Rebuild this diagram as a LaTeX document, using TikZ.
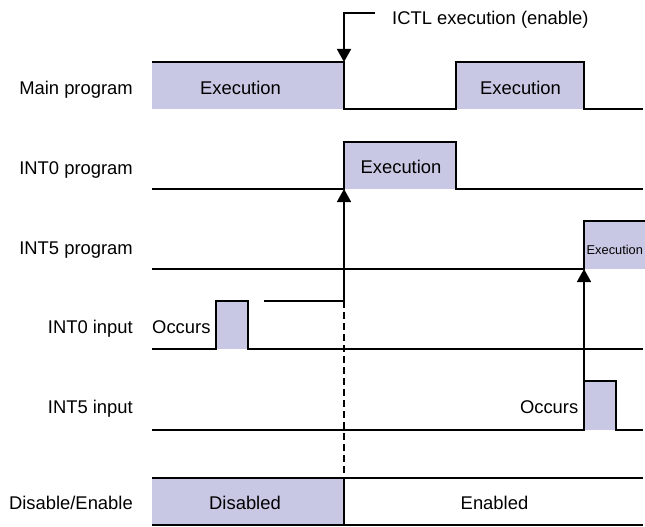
\documentclass[tikz,border=0pt]{standalone}
\usepackage{fontspec}
\setmainfont{Liberation Sans}
\usetikzlibrary{arrows.meta}
\definecolor{sigfill}{RGB}{200,200,228}
\begin{document}
\begin{tikzpicture}[x=1pt,y=-1pt,
  lbl/.style={anchor=base east, inner sep=0pt, font=\fontsize{18.4}{22}\selectfont},
  txt/.style={anchor=base, inner sep=0pt, font=\fontsize{18.4}{22}\selectfont},
  wave/.style={line width=1.7pt, line join=miter, line cap=butt},
  arr/.style={wave, -{Triangle[length=13pt,width=14pt]}},
  dashline/.style={line width=1.7pt, dash pattern=on 7pt off 4pt},
]
\useasboundingbox (0,0) rectangle (645,527);

% ---- fills
\fill[sigfill] (152,62) rectangle (344,109);
\fill[sigfill] (456,62) rectangle (584,109);
\fill[sigfill] (344,142) rectangle (456,189);
\fill[sigfill] (584,221) rectangle (645,269);
\fill[sigfill] (216,301) rectangle (248,349);
\fill[sigfill] (584,381) rectangle (616,430);
\fill[sigfill] (152,478) rectangle (344,525);

% ---- row labels
\node[lbl] (lmain) at (133,94.3) {Main program};
\node[lbl] (lint0p) at (133,174.3) {INT0 program};
\node[lbl] (lint5p) at (133,254.3) {INT5 program};
\node[lbl] (lint0i) at (133,333.3) {INT0 input};
\node[lbl] (lint5i) at (133,413.3) {INT5 input};
\node[lbl] (lde) at (133,509) {Disable/Enable};

% ---- key coordinates
\coordinate (ictlA) at (375,13);
\coordinate (ictlB) at (344,13);
\coordinate (mainEdge) at (344,62);
\coordinate (int0Base) at (344,189);
\coordinate (int0Pend) at (344,301);
\coordinate (int5Base) at (584,269);
\coordinate (int5Pulse) at (584,381);
\coordinate (deTop) at (344,478);

% ---- main program
\draw[wave] (152,62) -- (344,62) -- (344,109) -- (456,109) -- (456,62) -- (584,62) -- (584,109) -- (643,109);
\node[txt] (mex1) at (240.5,94.3) {Execution};
\node[txt] (mex2) at (520.5,94.3) {Execution};

% ---- INT0 program
\draw[wave] (152,189) -- (344,189) -- (344,142) -- (456,142) -- (456,189) -- (643,189);
\node[txt] (i0ex) at (401,173.7) {Execution};

% ---- INT5 program
\draw[wave] (152,269) -- (584,269) -- (584,221) -- (645,221);
\node[anchor=base west, inner sep=0pt, font=\fontsize{12.8}{15}\selectfont] (i5ex) at (586.5,254) {Execution};

% ---- INT0 input
\draw[wave] (152,349) -- (216,349) -- (216,301) -- (248,301) -- (248,349) -- (643,349);
\node[anchor=base west, inner sep=0pt, font=\fontsize{18.4}{22}\selectfont] (occ0) at (152,333.3) {Occurs};
\draw[wave] (264,301) -- (int0Pend);
\draw[arr] (int0Pend) -- (int0Base);
\draw[dashline] (int0Pend) -- (deTop);

% ---- INT5 input
\draw[wave] (152,430) -- (584,430) -- (584,381) -- (616,381) -- (616,430) -- (643,430);
\node[anchor=base east, inner sep=0pt, font=\fontsize{18.4}{22}\selectfont] (occ5) at (578.5,413.3) {Occurs};
\draw[arr] (int5Pulse) -- (int5Base);

% ---- ICTL
\draw[arr] (ictlA) -- (ictlB) -- (mainEdge);
\node[anchor=base west, inner sep=0pt, font=\fontsize{18.4}{22}\selectfont] (ictl) at (392,25) {ICTL execution (enable)};

% ---- Disable / Enable
\draw[wave] (152,478) -- (643,478);
\draw[wave] (152,525) -- (643,525);
\draw[wave] (deTop) -- (344,525);
\node[txt] (dis) at (245,509) {Disabled};
\node[txt] (ena) at (494.5,509) {Enabled};
\end{tikzpicture}
\end{document}
